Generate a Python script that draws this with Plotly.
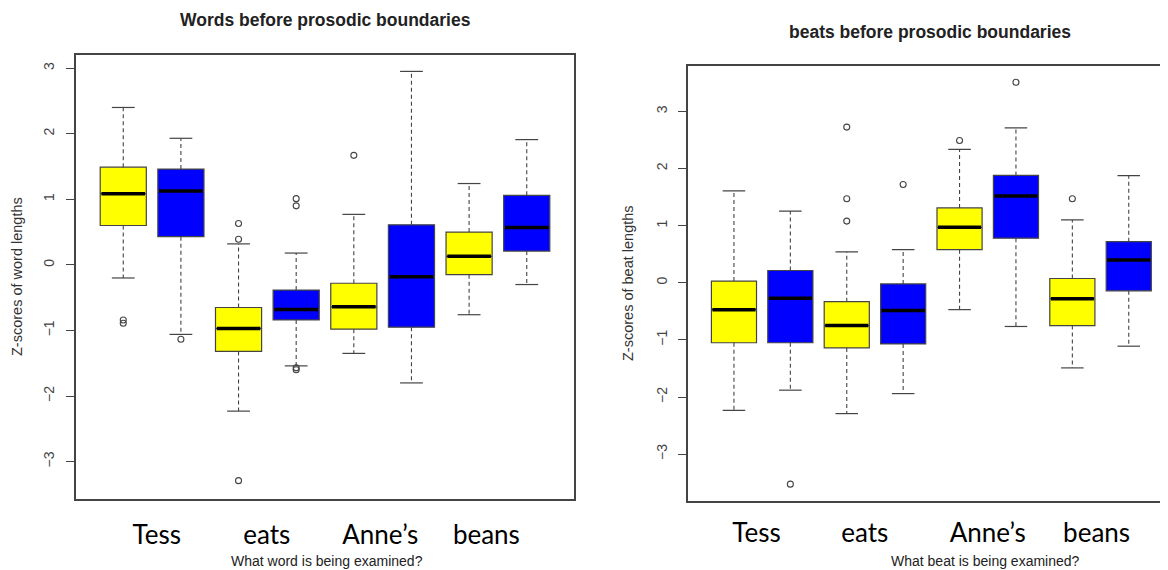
import plotly.graph_objects as go

# page body has an 8px margin, so the figure is drawn 8px smaller and offset
OFF = 8
W, H = 1168 - OFF, 570 - OFF

words = ["Tess", "eats", "Anne\u2019s", "beans"]
group_colors = ["#FFFF00", "#0000FF"]
# where the word labels sit under each panel (box-position units)
word_label_pos = [1.58, 3.49, 5.46, 7.30]
beat_label_pos = [1.40, 3.32, 5.50, 7.43]

# Left panel: words before prosodic boundaries (order: word x [yellow, blue])
word_upper = [2.40, 1.93, 0.32, 0.18, 0.77, 2.95, 1.24, 1.91]
word_q3 = [1.49, 1.46, -0.65, -0.385, -0.28, 0.61, 0.50, 1.06]
word_median = [1.085, 1.125, -0.97, -0.68, -0.64, -0.18, 0.13, 0.57]
word_q1 = [0.60, 0.43, -1.32, -0.84, -0.98, -0.95, -0.15, 0.21]
word_lower = [-0.20, -1.06, -2.23, -1.54, -1.35, -1.80, -0.76, -0.30]
word_outliers = [[-0.84, -0.89], [-1.135], [0.39, 0.63, -3.29], [1.01, 0.90, -1.57, -1.60],
                 [1.67], [], [], []]

# Right panel: beats before prosodic boundaries
beat_upper = [1.61, 1.255, 0.54, 0.58, 2.335, 2.71, 1.10, 1.875]
beat_q3 = [0.03, 0.215, -0.33, -0.02, 1.31, 1.88, 0.075, 0.72]
beat_median = [-0.47, -0.27, -0.75, -0.485, 0.97, 1.52, -0.28, 0.40]
beat_q1 = [-1.05, -1.05, -1.14, -1.07, 0.58, 0.78, -0.75, -0.14]
beat_lower = [-2.235, -1.88, -2.29, -1.94, -0.47, -0.765, -1.49, -1.11]
beat_outliers = [[], [-3.525], [1.08, 1.47, 2.725], [1.72], [2.49], [3.51], [1.47], []]

y_ticks = [-3, -2, -1, 0, 1, 2, 3]

EDGE = "#444444"
fig = go.Figure()


def add_panel(xa, ya, upper, q3, med, q1, lower, outl, box_px):
    n = len(med)
    pos = list(range(1, n + 1))
    for i in range(n):
        fig.add_trace(go.Box(
            x=[pos[i]], q1=[q1[i]], median=[med[i]], q3=[q3[i]],
            lowerfence=[q1[i]], upperfence=[q3[i]],
            width=0.8, whiskerwidth=0, fillcolor=group_colors[i % 2],
            line=dict(color=EDGE, width=1.2), boxpoints=False,
            xaxis=xa, yaxis=ya, showlegend=False, hoverinfo="skip"))
    # dashed whiskers
    wx, wy = [], []
    for i in range(n):
        wx += [pos[i], pos[i], None, pos[i], pos[i], None]
        wy += [q3[i], upper[i], None, q1[i], lower[i], None]
    fig.add_trace(go.Scatter(x=wx, y=wy, mode="lines",
                             line=dict(color=EDGE, width=1.1, dash="4px,3px"),
                             xaxis=xa, yaxis=ya, showlegend=False, hoverinfo="skip"))
    # staples (line-ew marker length = 1.4 * size)
    fig.add_trace(go.Scatter(x=pos + pos, y=upper + lower, mode="markers",
                             marker=dict(symbol="line-ew", size=box_px / 2 / 1.4,
                                         line=dict(color=EDGE, width=1.2)),
                             xaxis=xa, yaxis=ya, showlegend=False, hoverinfo="skip"))
    # thick medians
    fig.add_trace(go.Scatter(x=pos, y=med, mode="markers",
                             marker=dict(symbol="line-ew", size=(box_px - 2) / 1.4,
                                         line=dict(color="black", width=3.5)),
                             xaxis=xa, yaxis=ya, showlegend=False, hoverinfo="skip"))
    # outliers
    ox, oy = [], []
    for i in range(n):
        for v in outl[i]:
            ox.append(pos[i])
            oy.append(v)
    fig.add_trace(go.Scatter(x=ox, y=oy, mode="markers",
                             marker=dict(symbol="circle-open", size=6,
                                         line=dict(color=EDGE, width=1.1), color=EDGE),
                             xaxis=xa, yaxis=ya, showlegend=False, hoverinfo="skip"))


add_panel("x", "y", word_upper, word_q3, word_median, word_q1, word_lower, word_outliers, 45.6)
add_panel("x2", "y2", beat_upper, beat_q3, beat_median, beat_q1, beat_lower, beat_outliers, 45.1)

tick_font = dict(family="Liberation Sans, Arial, sans-serif", size=14, color="#444444")
cat_font = dict(family="Lato, Open Sans, sans-serif", size=26, color="black")


def px_x(p):
    return (p - OFF) / W


def px_y(p):
    return 1 - (p - OFF) / H


axis_common_y = dict(tickvals=y_ticks, ticks="outside", ticklen=8, tickcolor=EDGE,
                     tickwidth=1.2, tickangle=-90, tickfont=tick_font, showgrid=False,
                     zeroline=False, linecolor=EDGE, linewidth=1.5, showline=True)
axis_common_x = dict(ticktext=words, ticks="", tickfont=cat_font,
                     showgrid=False, zeroline=False, linecolor=EDGE, linewidth=1.5,
                     showline=True, mirror=True)

fig.update_layout(
    width=W, height=H,
    margin=dict(l=0, r=0, t=0, b=0),
    paper_bgcolor="white", plot_bgcolor="white",
    showlegend=False,
    xaxis=dict(domain=[px_x(76), px_x(574)], range=[0.18, 8.82], anchor="y",
               tickvals=word_label_pos, ticklabelstandoff=12, **axis_common_x),
    yaxis=dict(domain=[px_y(499), px_y(55)], range=[-3.57, 3.20], anchor="x",
               mirror=True, ticklabelstandoff=7, **axis_common_y),
    xaxis2=dict(domain=[px_x(687.7), 1.0], range=[0.18, 8.696], anchor="y2",
                tickvals=beat_label_pos, ticklabelstandoff=8, **axis_common_x),
    yaxis2=dict(domain=[px_y(501), px_y(65.7)], range=[-3.82, 3.80], anchor="x2",
                mirror=False, ticklabelstandoff=5, **axis_common_y),
)

annots = [
    dict(text="<b>Words before prosodic boundaries</b>", x=px_x(325), y=px_y(20), size=17.5),
    dict(text="<b>beats before prosodic boundaries</b>", x=px_x(930), y=px_y(32), size=17.5),
    dict(text="What word is being examined?", x=px_x(327), y=px_y(561), size=14),
    dict(text="What beat is being examined?", x=px_x(985), y=px_y(561), size=14),
]
for a in annots:
    fig.add_annotation(text=a["text"], x=a["x"], y=a["y"], xref="paper", yref="paper",
                       xanchor="center", yanchor="middle", showarrow=False,
                       font=dict(family="Liberation Sans, Arial, sans-serif", size=a["size"],
                                 color="#222222"))

for txt, xp, yp in [("Z-scores of word lengths", 17, 277), ("Z-scores of beat lengths", 628, 283)]:
    fig.add_annotation(text=txt, x=px_x(xp), y=px_y(yp), xref="paper", yref="paper",
                       xanchor="center", yanchor="middle", showarrow=False, textangle=-90,
                       font=dict(family="Liberation Sans, Arial, sans-serif", size=14.5,
                                 color="#333333"))

fig.write_html("out.html")
